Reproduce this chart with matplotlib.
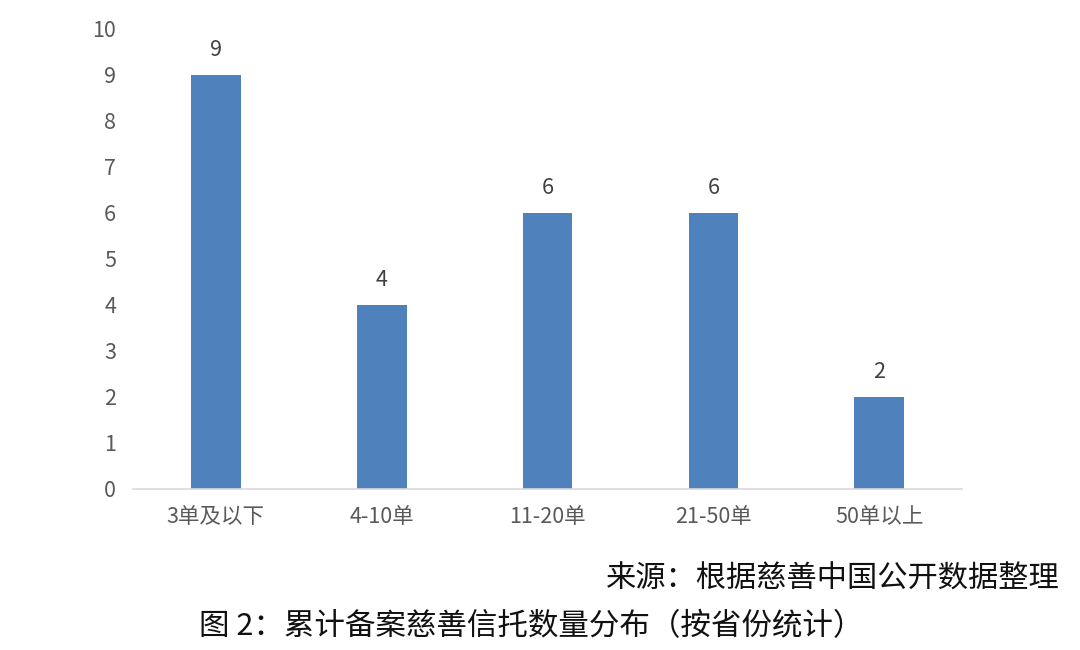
import matplotlib.pyplot as plt

plt.rcParams['font.family'] = ['Noto Sans CJK SC', 'DejaVu Sans']

# 数据
categories = ['3单及以下', '4-10单', '11-20单', '21-50单', '50单以上']
counts = [9, 4, 6, 6, 2]
yticks = list(range(0, 11))

fig = plt.figure(figsize=(10.8, 6.5), dpi=100)
ax = fig.add_axes([0.123, 0.2477, 0.768, 0.7077])

x = range(len(categories))
bars = ax.bar(x, counts, width=0.30, color='#4F81BD', zorder=2)

for xi, v in zip(x, counts):
    ax.text(xi, v + 0.3, str(v), ha='center', va='bottom',
            fontsize=15.5, color='#404040')

ax.set_xlim(-0.5, len(categories) - 0.5)
ax.set_ylim(0, 10)
ax.set_yticks(yticks)
ax.set_xticks(list(x))
ax.set_xticklabels(categories)
ax.tick_params(axis='both', length=0, labelsize=15.5, colors='#595959')
ax.tick_params(axis='y', pad=12)
ax.tick_params(axis='x', pad=12)

for side in ['top', 'right', 'left']:
    ax.spines[side].set_visible(False)
ax.spines['bottom'].set_color('#D9D9D9')
ax.spines['bottom'].set_linewidth(1.2)

fig.text(0.981, 0.109, '来源：根据慈善中国公开数据整理', ha='right', va='center',
         fontsize=21.8, color='#111111')
fig.text(0.492, 0.036, '图 2：累计备案慈善信托数量分布（按省份统计）', ha='center',
         va='center', fontsize=22, color='#111111')

fig.savefig('out.png', dpi=100)
